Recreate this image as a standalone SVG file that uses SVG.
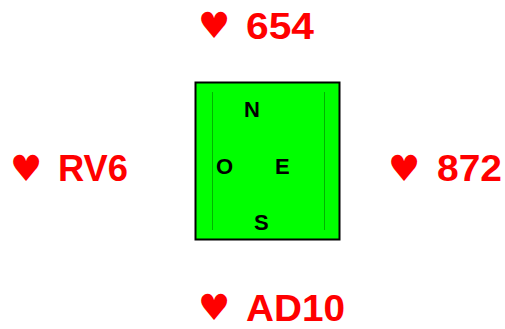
<svg xmlns="http://www.w3.org/2000/svg" width="505" height="329" viewBox="0 0 505 329">
<style>
.lbl{font-family:"Liberation Sans",Arial,sans-serif;font-weight:bold;font-size:36px;fill:#ff0000}
.heart{font-family:"DejaVu Sans",sans-serif;font-size:36px;fill:#ff0000}
.dir{font-family:"Liberation Sans",Arial,sans-serif;font-weight:bold;font-size:22px;fill:#000}
</style>
<rect width="505" height="329" fill="#fff"/>
<g id="box">
<rect x="195.5" y="82.5" width="144" height="157" fill="#00ff00" stroke="#000" stroke-width="2"/>
<line x1="212.5" y1="92" x2="212.5" y2="230" stroke="#00b400" stroke-width="1"/>
<line x1="324.5" y1="92" x2="324.5" y2="230" stroke="#00b400" stroke-width="1"/>
<text class="dir" x="244" y="117">N</text>
<text class="dir" x="216" y="174">O</text>
<text class="dir" x="275" y="174">E</text>
<text class="dir" x="254" y="230">S</text>
</g>
<g id="north">
<text class="heart" x="198" y="38">♥</text>
<text class="lbl" x="246" y="39" textLength="68" lengthAdjust="spacingAndGlyphs">654</text>
</g>
<g id="west">
<text class="heart" x="10" y="181">♥</text>
<text class="lbl" x="58" y="181" textLength="70" lengthAdjust="spacingAndGlyphs">RV6</text>
</g>
<g id="east">
<text class="heart" x="388" y="181">♥</text>
<text class="lbl" x="437" y="181" textLength="65" lengthAdjust="spacingAndGlyphs">872</text>
</g>
<g id="south">
<text class="heart" x="198" y="320">♥</text>
<text class="lbl" x="246" y="321" textLength="99" lengthAdjust="spacingAndGlyphs">AD10</text>
</g>
<g id="connectors"></g>
</svg>
